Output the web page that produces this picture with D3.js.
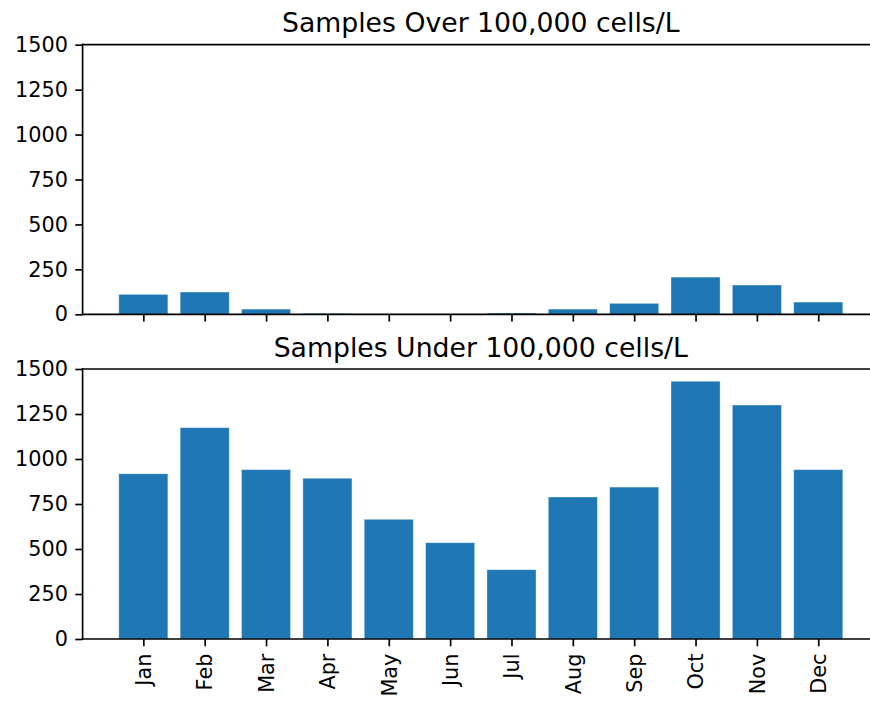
<!DOCTYPE html>
<html>
<head>
<meta charset="utf-8">
<script src="https://cdn.jsdelivr.net/npm/d3@7"></script>
<style>
  html, body { margin: 0; padding: 0; background: #fff; overflow: hidden; }
  svg { display: block; }
  text { font-family: "DejaVu Sans", sans-serif; fill: #000; }
</style>
</head>
<body>
<svg id="chart" width="870" height="701"></svg>
<script>
const months = ["Jan","Feb","Mar","Apr","May","Jun","Jul","Aug","Sep","Oct","Nov","Dec"];
const overValues = [111, 124, 29, 5, 0, 0, 7, 29, 61, 207, 163, 68];
const underValues = [918, 1174, 941, 893, 665, 535, 385, 789, 844, 1432, 1300, 941];
const yTicks = [0, 250, 500, 750, 1000, 1250, 1500];
const titles = ["Samples Over 100,000 cells/L", "Samples Under 100,000 cells/L"];

const svg = d3.select("#chart");
const left = 82.6, right = 879;
const panels = [
  { top: 44.7, bottom: 314.3, values: overValues, title: titles[0], showLabels: false },
  { top: 369, bottom: 639, values: underValues, title: titles[1], showLabels: true }
];

const x = d3.scaleLinear().domain([-0.99, 11.99]).range([left, right]);
const barW = x(0.8) - x(0);
const lw = 1.67, tickLen = 7.3, pad = 7.3;

panels.forEach(p => {
  const y = d3.scaleLinear().domain([0, 1500]).range([p.bottom, p.top]);
  const g = svg.append("g");

  g.selectAll("rect.bar").data(p.values).enter().append("rect")
    .attr("class", "bar")
    .attr("x", (d, i) => x(i) - barW / 2)
    .attr("width", barW)
    .attr("y", d => y(d))
    .attr("height", d => y(0) - y(d))
    .attr("fill", "#1f77b4")
    .attr("stroke", "#ffffff")
    .attr("stroke-opacity", 0.45)
    .attr("stroke-width", 0.8);

  // y axis
  const yAxis = d3.axisLeft(y).tickValues(yTicks).tickSize(tickLen).tickPadding(pad).tickFormat(d3.format("d"));
  const ya = g.append("g").attr("transform", `translate(${left},0)`).call(yAxis);
  ya.select(".domain").remove();
  ya.selectAll("line").attr("stroke", "#000").attr("stroke-width", lw);
  ya.selectAll("text").style("font-size", "20.8px").style("font-family", "DejaVu Sans");

  // x axis
  const xAxis = d3.axisBottom(x).tickValues(d3.range(months.length)).tickSize(tickLen).tickPadding(pad)
    .tickFormat(i => p.showLabels ? months[i] : "");
  const xa = g.append("g").attr("transform", `translate(0,${p.bottom})`).call(xAxis);
  xa.select(".domain").remove();
  xa.selectAll("line").attr("stroke", "#000").attr("stroke-width", lw);
  if (p.showLabels) {
    xa.selectAll("text")
      .style("font-size", "20.8px").style("font-family", "DejaVu Sans")
      .attr("transform", "rotate(-90)")
      .attr("text-anchor", "end")
      .attr("x", -(tickLen + pad))
      .attr("y", 0)
      .attr("dy", "0.35em");
  } else {
    xa.selectAll("text").remove();
  }

  // spines: left, top, bottom (right is outside the canvas)
  g.append("line").attr("x1", left).attr("x2", left).attr("y1", p.top).attr("y2", p.bottom)
    .attr("stroke", "#000").attr("stroke-width", lw).attr("stroke-linecap", "square");
  g.append("line").attr("x1", left).attr("x2", right).attr("y1", p.top).attr("y2", p.top)
    .attr("stroke", "#000").attr("stroke-width", lw).attr("stroke-linecap", "square");
  g.append("line").attr("x1", left).attr("x2", right).attr("y1", p.bottom).attr("y2", p.bottom)
    .attr("stroke", "#000").attr("stroke-width", lw).attr("stroke-linecap", "square");

  g.append("text")
    .attr("x", (left + right) / 2)
    .attr("y", p.top - 12.5)
    .attr("text-anchor", "middle")
    .style("font-size", "26.7px")
    .text(p.title);
});
</script>
</body>
</html>
